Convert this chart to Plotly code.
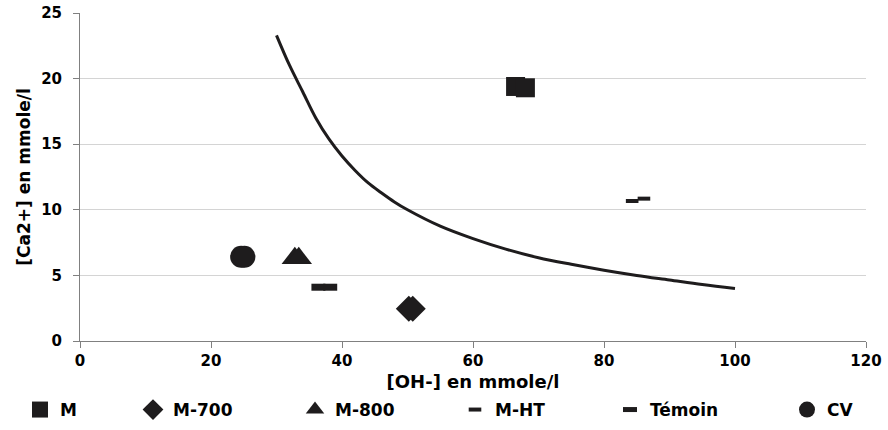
import plotly.graph_objects as go

# Reference curve: [Ca2+] vs [OH-]
curve_x = [30, 32, 34, 36, 38, 40, 42, 44, 46, 48, 50, 55, 60, 65, 70, 75, 80, 85, 90, 95, 100]
curve_y = [23.3, 21.0, 19.0, 17.0, 15.4, 14.1, 13.0, 12.05, 11.3, 10.6, 10.0, 8.75, 7.8, 7.0, 6.35, 5.85, 5.4, 5.0, 4.65, 4.3, 4.0]

# Measured samples (duplicate determinations)
m_x, m_y = [66.5, 68.0], [19.4, 19.3]
m700_x, m700_y = [50.2, 50.8], [2.45, 2.45]
m800_x, m800_y = [32.8, 33.4], [6.3, 6.3]
mht_x, mht_y = [84.3, 86.1], [10.67, 10.85]
temoin_x, temoin_y = [36.4, 38.2], [4.1, 4.1]
cv_x, cv_y = [24.6, 25.1], [6.42, 6.42]

x_ticks = [0, 20, 40, 60, 80, 100, 120]
y_ticks = [0, 5, 10, 15, 20, 25]

INK = "#1e1c1d"
FONT = "DejaVu Sans"

fig = go.Figure()

fig.add_trace(go.Scatter(x=curve_x, y=curve_y, mode="lines", line=dict(color=INK, width=3, shape="spline", smoothing=1.0),
                         showlegend=False, hoverinfo="skip"))

series = [
    ("M", m_x, m_y, dict(symbol="square", size=19, color=INK), "legend"),
    ("M-700", m700_x, m700_y, dict(symbol="diamond", size=20, color=INK), "legend2"),
    ("M-800", m800_x, m800_y, dict(symbol="triangle-up", size=23, color=INK), "legend3"),
    ("M-HT", mht_x, mht_y, dict(symbol="line-ew", size=9, color=INK, line=dict(color=INK, width=4)), "legend4"),
    ("Témoin", temoin_x, temoin_y, dict(symbol="line-ew", size=10, color=INK, line=dict(color=INK, width=7)), "legend5"),
    ("CV", cv_x, cv_y, dict(symbol="circle", size=22, color=INK), "legend6"),
]
for name, xs, ys, mk, lg in series:
    fig.add_trace(go.Scatter(x=xs, y=ys, mode="markers", name=f"<b>{name}</b>", marker=mk, legend=lg))

# legend entries laid out along the bottom (x = text start in pixels)
legend_x_px = [60, 173, 335, 495, 650, 827]
legend_font = dict(family=FONT, size=17, color="black", weight=700)
L, R, T, B = 80, 22, 13, 89
W, H = 888, 430
pw = W - L - R
ph = H - T - B
legend_layouts = {}
for i, px in enumerate(legend_x_px):
    key = "legend" if i == 0 else f"legend{i + 1}"
    legend_layouts[key] = dict(
        x=(px - 40 - L) / pw, xanchor="left",
        y=(T + ph - 410) / ph, yanchor="middle",
        orientation="h", font=legend_font, bgcolor="rgba(0,0,0,0)",
        borderwidth=0, itemsizing="trace",
    )

fig.update_layout(
    width=W, height=H,
    margin=dict(l=L, r=R, t=T, b=B, autoexpand=False),
    paper_bgcolor="white", plot_bgcolor="white",
    **legend_layouts,
)

tick_font = dict(family=FONT, size=15, color="black", weight=700)
fig.update_xaxes(
    range=[0, 120], tickvals=x_ticks, ticktext=[f"<b>{v}</b>" for v in x_ticks],
    ticks="outside", ticklen=6, tickcolor="#808080",
    showline=True, linecolor="#808080", linewidth=1, showgrid=False, zeroline=False,
    tickfont=tick_font,
    title=dict(text="<b>[OH-] en mmole/l</b>", font=dict(family=FONT, size=18, color="black", weight=700), standoff=6),
)
fig.update_yaxes(
    range=[0, 25], tickvals=y_ticks, ticktext=[f"<b>{v}</b>" for v in y_ticks],
    ticks="outside", ticklen=6, tickcolor="#808080", ticklabelstandoff=8,
    showline=True, linecolor="#808080", linewidth=1, showgrid=True, gridcolor="#d4d4d4", gridwidth=1,
    zeroline=False,
    tickfont=tick_font,
    title=dict(text="<b>[Ca2+] en mmole/l</b>", font=dict(family=FONT, size=17, color="black", weight=700), standoff=6),
)

fig.write_html("out.html")
